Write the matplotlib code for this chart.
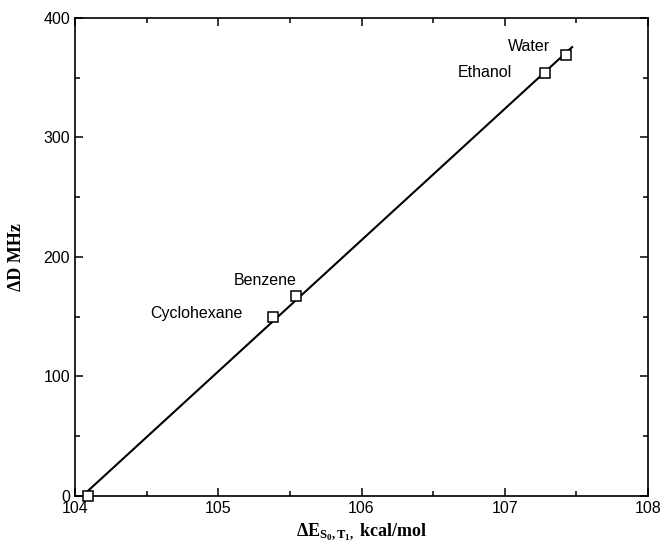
import numpy as np
import matplotlib
matplotlib.use("Agg")
import matplotlib.pyplot as plt
from matplotlib.ticker import MultipleLocator

# solvent data
solvents = ["", "Cyclohexane", "Benzene", "Ethanol", "Water"]
delta_e = [104.09, 105.38, 105.54, 107.28, 107.43]   # kcal/mol
delta_d = [0.0, 149.4, 167.4, 354.0, 369.0]          # MHz

# label offsets (points) relative to each marker
label_offsets = [(0, 0), (-22, 3), (1, 11), (-24, 0), (-12, 6)]

plt.rcParams['font.family'] = ['Liberation Sans', 'DejaVu Sans']
plt.rcParams['mathtext.fontset'] = 'custom'
plt.rcParams['mathtext.rm'] = 'Liberation Serif'
plt.rcParams['mathtext.bf'] = 'Liberation Serif:bold'
plt.rcParams['mathtext.it'] = 'Liberation Serif:italic'

fig = plt.figure(figsize=(6.64, 5.45), dpi=100)
ax = fig.add_axes([0.113, 0.09, 0.863, 0.877])

x = np.array(delta_e)
y = np.array(delta_d)

# least squares line through the points
slope, icpt = np.polyfit(x, y, 1)
xl = np.linspace(x.min(), x.max() + 0.04, 50)
ax.plot(xl, slope * xl + icpt, color='black', lw=1.5, zorder=2)

ax.plot(x, y, linestyle='none', marker='s', markersize=7,
        markerfacecolor='white', markeredgecolor='black', markeredgewidth=1.1,
        zorder=3, clip_on=False)

for name, xi, yi, off in zip(solvents, x, y, label_offsets):
    if not name:
        continue
    ax.annotate(name, (xi, yi), xytext=off, textcoords='offset points',
                ha='right', va='center', fontsize=11.5)

ax.set_xlim(104, 108)
ax.set_ylim(0, 400)
ax.xaxis.set_major_locator(MultipleLocator(1))
ax.xaxis.set_minor_locator(MultipleLocator(0.5))
ax.yaxis.set_major_locator(MultipleLocator(100))
ax.yaxis.set_minor_locator(MultipleLocator(50))
ax.tick_params(which='both', direction='in', top=True, right=True,
               labelsize=11.5, width=1.1)
ax.tick_params(which='major', length=6)
ax.tick_params(which='minor', length=3.5)
for sp in ax.spines.values():
    sp.set_linewidth(1.2)

ax.set_xlabel(r'ΔE$_{\mathbf{S_0,T_1,}}$ kcal/mol', family='Liberation Serif',
              fontweight='bold', fontsize=13, labelpad=4)
ax.set_ylabel('ΔD MHz', family='Liberation Serif', fontweight='bold',
              fontsize=13, labelpad=13)

fig.savefig('out.png', dpi=100)
